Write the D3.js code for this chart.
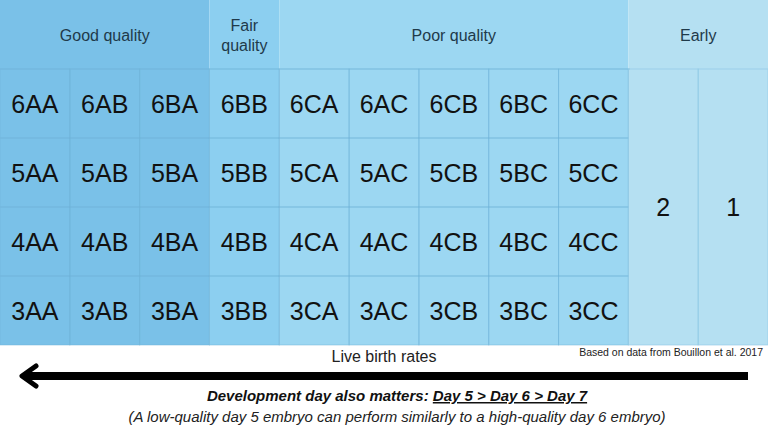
<!DOCTYPE html><html><head><meta charset="utf-8"><script src="https://cdn.jsdelivr.net/npm/d3@7"></script>
<style>body{margin:0;background:#fff}svg{display:block;font-family:'Liberation Sans',Arial,sans-serif}</style></head><body><svg id="c" width="768" height="439"></svg>
<script>
const expansion=["6","5","4","3"];
const gradeCols=["AA","AB","BA","BB","CA","AC","CB","BC","CC"];
const earlyCols=["2","1"];
const groups=[{name:"Good quality",cols:["AA","AB","BA"],color:"#7ac1e8"},{name:"Fair\nquality",cols:["BB"],color:"#8ccff0"},{name:"Poor quality",cols:["CA","AC","CB","BC","CC"],color:"#9cd7f2"},{name:"Early",cols:["2","1"],color:"#b5e0f2"}];
const svg=d3.select("#c");
const x=d3.scaleBand().domain(gradeCols.concat(earlyCols)).range([0,768]);
const y=d3.scaleBand().domain(["h"].concat(expansion)).range([0,345]);
const colColor=c=>groups.find(g=>g.cols.includes(c)).color;
// header backgrounds
groups.forEach(g=>{
  const x0=x(g.cols[0]),x1=x(g.cols[g.cols.length-1])+x.bandwidth();
  svg.append("rect").attr("x",x0).attr("y",0).attr("width",x1-x0).attr("height",345).attr("fill",g.color);
  const lines=g.name.split("\n");
  const t=svg.append("text").attr("x",(x0+x1)/2).attr("text-anchor","middle").attr("font-size",16).attr("fill","#1f3a4a");
  lines.forEach((l,i)=>t.append("tspan").attr("x",(x0+x1)/2).attr("y",y("h")+y.bandwidth()/2+6+(i-(lines.length-1)/2)*20).text(l));
});
// cells
gradeCols.forEach(c=>expansion.forEach(e=>{
  svg.append("rect").attr("x",x(c)).attr("y",y(e)).attr("width",x.bandwidth()).attr("height",y.bandwidth()).attr("fill","none").attr("stroke","#6fb3da").attr("stroke-opacity",0.5);
  svg.append("text").attr("x",x(c)+x.bandwidth()/2).attr("y",y(e)+y.bandwidth()/2+9).attr("text-anchor","middle").attr("font-size",25).attr("fill","#111").text(e+c);
}));
svg.append("line").attr("x1",0).attr("x2",630).attr("y1",y(expansion[0])).attr("y2",y(expansion[0])).attr("stroke","#6fb3da").attr("stroke-opacity",0.5);
earlyCols.forEach(c=>{
  svg.append("rect").attr("x",x(c)).attr("y",y(expansion[0])).attr("width",x.bandwidth()).attr("height",345-y(expansion[0])).attr("fill","none").attr("stroke","#8cc6e4").attr("stroke-opacity",0.6);
  svg.append("text").attr("x",x(c)+x.bandwidth()/2).attr("y",(y(expansion[0])+345)/2+9).attr("text-anchor","middle").attr("font-size",25).attr("fill","#111").text(c);
});
svg.append("text").attr("x",384).attr("y",362).attr("text-anchor","middle").attr("font-size",16).attr("fill","#222").text("Live birth rates");
svg.append("text").attr("x",763).attr("y",356).attr("text-anchor","end").attr("font-size",10.5).attr("fill","#222").text("Based on data from Bouillon et al. 2017");
svg.append("line").attr("x1",24).attr("x2",748).attr("y1",376).attr("y2",376).attr("stroke","#000").attr("stroke-width",8);
svg.append("path").attr("d","M36,366 L22,376 L36,386").attr("fill","none").attr("stroke","#000").attr("stroke-width",5).attr("stroke-linecap","round").attr("stroke-linejoin","round");
const t2=svg.append("text").attr("x",397).attr("y",401).attr("text-anchor","middle").attr("font-size",15).attr("font-weight","bold").attr("font-style","italic").attr("fill","#111");
t2.append("tspan").text("Development day also matters: ");
t2.append("tspan").attr("text-decoration","underline").text("Day 5 > Day 6 > Day 7 ");
svg.append("text").attr("x",397).attr("y",422).attr("text-anchor","middle").attr("font-size",15).attr("font-style","italic").attr("fill","#222").text("(A low-quality day 5 embryo can perform similarly to a high-quality day 6 embryo)");
</script></body></html>
